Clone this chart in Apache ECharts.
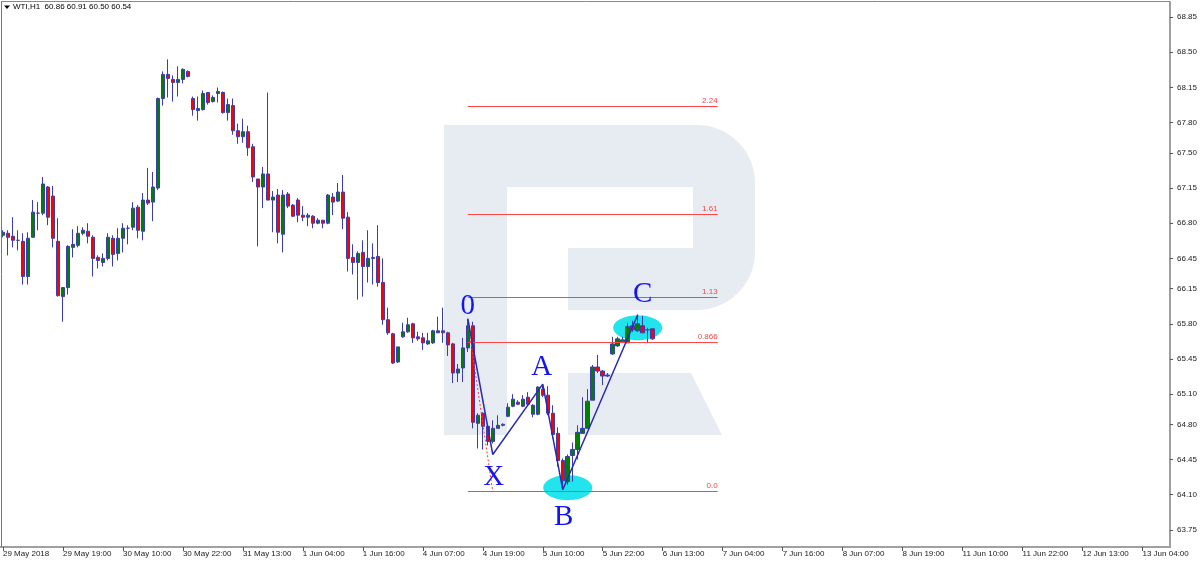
<!DOCTYPE html>
<html><head><meta charset="utf-8">
<script src="https://cdn.jsdelivr.net/npm/echarts@6/dist/echarts.min.js"></script>
<style>html,body{margin:0;padding:0;background:#fff}#c{width:1200px;height:561px}</style>
</head><body><div id="c"></div>
<script>
const tickLabels = ['29 May 2018','29 May 19:00','30 May 10:00','30 May 22:00','31 May 13:00','1 Jun 04:00','1 Jun 16:00','4 Jun 07:00','4 Jun 19:00','5 Jun 10:00','5 Jun 22:00','6 Jun 13:00','7 Jun 04:00','7 Jun 16:00','8 Jun 07:00','8 Jun 19:00','11 Jun 10:00','11 Jun 22:00','12 Jun 13:00','13 Jun 04:00'];
const barsPerTick = 12;
const totalSlots = 234;

const opens = [66.68,66.70,66.67,66.63,66.62,66.27,66.66,66.90,66.90,67.16, 67.07,66.62,66.07,66.16,66.56,66.58,66.70,66.72,66.66,66.46, 66.41,66.45,66.65,66.50,66.65,66.75,66.76,66.96,66.72,67.03, 67.01,67.15,68.04,68.28,68.23,68.20,68.23,68.31,68.04,67.92, 67.93,68.10,68.01,68.09,68.10,67.90,67.97,67.72,67.66,67.71, 67.56,67.24,67.16,67.29,67.03,67.08,66.69,67.09,66.98,67.03, 66.88,66.86,66.87,66.80,66.83,66.80,67.06,67.02,67.11,66.86, 66.46,66.41,66.51,66.37,66.45,66.47,66.21,65.84,65.70,65.42, 65.67,65.72,65.80,65.67,65.66,65.60,65.61,65.71,65.73,65.71, 65.60,65.31,65.36,65.56,65.78,64.81,64.91,64.78,64.63,64.76, 64.79,64.88,64.98,65.02,64.98,65.07,64.90,64.90,65.15,65.09, 64.91,64.71,64.44,64.23,64.49,64.55,64.71,64.76,65.04,65.37, 65.33,65.28,65.50,65.58,65.62,65.61,65.78,65.73,65.78,65.74, 65.75];
const closes = [66.71,66.66,66.63,66.63,66.27,66.65,66.91,66.90,67.19,66.86, 66.65,66.08,66.16,66.57,66.59,66.70,66.73,66.67,66.45,66.43, 66.45,66.66,66.49,66.65,66.75,66.75,66.95,66.73,67.03,67.00, 67.16,68.04,68.28,68.24,68.20,68.23,68.33,68.26,67.93,67.94, 68.09,68.00,68.05,68.11,67.90,67.98,67.72,67.66,67.71,67.55, 67.26,67.16,67.29,67.03,67.06,66.71,67.08,66.97,66.87,66.88, 66.86,66.88,66.80,66.83,66.80,67.08,67.01,67.11,66.85,66.45, 66.41,66.50,66.37,66.45,66.46,66.21,65.84,65.71,65.41,65.57, 65.72,65.79,65.66,65.65,65.61,65.63,65.73,65.73,65.71,65.59, 65.31,65.35,65.56,65.78,64.82,64.89,64.78,64.63,64.76,64.79, 64.80,64.97,65.05,65.00,65.05,65.00,64.99,65.17,65.09,64.91, 64.70,64.44,64.24,64.48,64.55,64.72,64.76,65.03,65.37,65.33, 65.28,65.29,65.60,65.65,65.64,65.77,65.74,65.80,65.71,65.74, 65.65];
const lows = [66.66,66.48,66.56,66.53,66.19,66.19,66.66,66.73,66.88,66.78, 66.56,66.07,65.82,66.09,66.46,66.56,66.68,66.60,66.27,66.35, 66.37,66.43,66.37,66.43,66.51,66.59,66.73,66.65,66.63,66.98, 66.82,67.13,67.97,68.05,68.01,68.06,68.19,68.25,67.87,67.82, 67.92,67.98,68.00,68.00,67.89,67.82,67.68,67.59,67.60,67.47, 67.21,66.57,66.95,67.03,66.71,66.60,66.51,66.95,66.86,66.81, 66.82,66.77,66.75,66.79,66.75,66.79,66.88,67.01,66.74,66.32, 66.29,66.04,66.07,66.21,66.19,66.17,65.79,65.69,65.40,65.41, 65.66,65.71,65.61,65.63,65.54,65.59,65.60,65.71,65.61,65.48, 65.21,65.22,65.22,65.52,64.76,64.56,64.55,64.59,64.61,64.76, 64.78,64.87,64.97,64.99,64.97,64.99,64.87,64.89,65.07,64.89, 64.66,64.38,64.15,64.20,64.23,64.45,64.71,64.76,65.04,65.31, 65.19,65.27,65.49,65.57,65.61,65.61,65.72,65.72,65.71,65.61, 65.64];
const highs = [66.73,66.73,66.86,66.73,66.70,66.71,67.03,67.01,67.26,67.17, 67.17,66.85,66.16,66.58,66.74,66.77,66.76,66.80,66.68,66.48, 66.50,66.70,66.68,66.75,66.80,66.78,67.01,66.98,67.10,67.35, 67.31,68.05,68.31,68.43,68.27,68.36,68.34,68.32,68.06,68.06, 68.12,68.10,68.07,68.15,68.11,68.04,68.04,67.79,67.84,67.77, 67.59,67.24,67.36,68.10,67.12,67.14,67.13,67.11,66.99,67.05, 66.97,66.90,66.88,66.85,66.83,67.09,67.10,67.20,67.28,66.91, 66.59,66.52,66.63,66.73,66.60,66.78,66.45,65.96,65.71,65.57, 65.81,65.86,65.81,65.72,65.71,65.71,65.74,65.87,65.96,65.72, 65.61,65.40,65.66,65.85,65.82,64.91,64.92,64.81,64.84,64.89, 64.81,65.01,65.10,65.04,65.09,65.12,65.00,65.18,65.20,65.18, 64.99,64.77,64.46,64.50,64.62,64.79,65.07,65.15,65.39,65.49, 65.34,65.31,65.67,65.67,65.67,65.81,65.83,65.89,65.88,65.76, 65.75];

const priceTicks = [68.85,68.50,68.15,67.80,67.50,67.15,66.80,66.45,66.15,65.80,65.45,65.10,64.80,64.45,64.10,63.75];

const fibLabels = ['2.24','1.61','1.13','0.866','0.0'];
const fibPrices = [67.97,66.89,66.07,65.62,64.14];
const fibStart = 93, fibEnd = 143;

const patternNames = ['0','X','A','B','C'];
const patternIdx = [93,98,108,112,127];
const patternPrice = [65.85,64.50,65.20,64.15,65.89];
const patternLabelOffset = [[0,-12],[1,23],[-1,-17],[1,28],[5,-20]];

const ellipseIdx = [113,127];
const ellipsePrice = [64.17,65.76];

const dotIdx = [93,98];
const dotPrice = [65.83,64.13];

const categories = Array.from({length: totalSlots}, (_, i) => i % barsPerTick === 0 ? (tickLabels[i / barsPerTick] || '') : '');
const candleData = opens.map((o, i) => [o, closes[i], lows[i], highs[i]]);

const FONT = '"Liberation Sans", Arial, sans-serif';
const SERIF = '"Liberation Serif", "Times New Roman", serif';
const wm = '#e7ecf3';

function arcPts(cx, cy, r, a0, a1, n) {
  const pts = [];
  for (let k = 0; k <= n; k++) {
    const a = a0 + (a1 - a0) * k / n;
    pts.push([cx + r * Math.cos(a), cy + r * Math.sin(a)]);
  }
  return pts;
}
const R = 58;
const bowlPts = [[444,125],[697,125]]
  .concat(arcPts(697, 125 + R, R, -Math.PI / 2, 0, 16))
  .concat(arcPts(697, 310 - R, R, 0, Math.PI / 2, 16))
  .concat([[568,310],[568,248],[693,248],[693,187],[507,187],[507,435],[444,435]]);

function ellipsePts(cx, cy, rx, ry) {
  const pts = [];
  for (let k = 0; k < 48; k++) {
    const a = 2 * Math.PI * k / 48;
    pts.push([cx + rx * Math.cos(a), cy + ry * Math.sin(a)]);
  }
  return pts;
}

const chart = echarts.init(document.getElementById('c'), null, {renderer: 'canvas'});

chart.setOption({
  animation: false,
  backgroundColor: '#ffffff',
  grid: {left: 0, right: 30, top: 2, bottom: 14, containLabel: false},
  xAxis: {
    type: 'category', data: categories, boundaryGap: true,
    axisLine: {show: true, lineStyle: {color: '#a0a0a0', width: 2}},
    axisTick: {show: true, interval: barsPerTick - 1, alignWithLabel: true, length: 4, lineStyle: {color: '#555'}},
    axisLabel: {interval: barsPerTick - 1, align: 'left', fontSize: 8, fontFamily: FONT, color: '#1a1a1a', margin: 3},
    splitLine: {show: false}
  },
  yAxis: {
    type: 'value', position: 'right', min: 63.58, max: 69.0, scale: true,
    axisLine: {show: true, lineStyle: {color: '#a0a0a0', width: 2}},
    axisTick: {show: true, customValues: priceTicks, length: 3, lineStyle: {color: '#555'}},
    axisLabel: {customValues: priceTicks, formatter: v => v.toFixed(2), fontSize: 8, fontFamily: FONT, color: '#1a1a1a', margin: 7},
    splitLine: {show: false}
  },
  graphic: [
    {type: 'polygon', z: 0, silent: true, shape: {points: bowlPts}, style: {fill: wm}},
    {type: 'polygon', z: 0, silent: true, shape: {points: [[568,373],[691,373],[722,435],[568,435]]}, style: {fill: wm}},
    {type: 'line', z: 10, silent: true, shape: {x1: 1.5, y1: 2, x2: 1.5, y2: 547}, style: {stroke: '#777', lineWidth: 1}},
    {type: 'line', z: 10, silent: true, shape: {x1: 1, y1: 1.5, x2: 1170, y2: 1.5}, style: {stroke: '#888', lineWidth: 1}},
    {type: 'polygon', z: 10, silent: true, shape: {points: [[4,5.5],[10,5.5],[7,9]]}, style: {fill: '#000'}},
    {type: 'text', z: 10, silent: true, x: 13, y: 3, style: {text: 'WTI,H1  60.86 60.91 60.50 60.54', font: '8px ' + FONT, fill: '#000'}}
  ],
  series: [
    {
      type: 'custom', z: 1, silent: true,
      data: ellipseIdx.map((x, i) => [x, ellipsePrice[i]]),
      renderItem: (params, api) => {
        const p = api.coord([api.value(0), api.value(1)]);
        return {type: 'polygon', shape: {points: ellipsePts(p[0], p[1], 24.5, 12.5)}, style: {fill: '#22e4ec'}};
      }
    },
    {
      type: 'candlestick', z: 2, barWidth: 4,
      data: candleData,
      itemStyle: {color: '#008000', color0: '#ff0000', borderColor: '#3c3cb0', borderColor0: '#3c3cb0', borderWidth: 1}
    },
    {
      type: 'custom', z: 3, silent: true,
      data: fibPrices.map(p => [fibStart, fibEnd, p]),
      encode: {x: [0, 1], y: 2},
      renderItem: (params, api) => {
        const a = api.coord([api.value(0), api.value(2)]);
        const b = api.coord([api.value(1), api.value(2)]);
        const y = Math.round(a[1]) + 0.5;
        return {type: 'group', children: [
          {type: 'line', shape: {x1: a[0], y1: y, x2: b[0], y2: y}, style: {stroke: '#ff4646', lineWidth: 1}},
          {type: 'text', x: b[0], y: y - 2, style: {text: fibLabels[params.dataIndex], fill: '#f04848', font: '8px ' + FONT, align: 'right', verticalAlign: 'bottom'}}
        ]};
      }
    },
    {
      type: 'line', z: 3, silent: true, symbol: 'none',
      data: dotIdx.map((x, i) => [x, dotPrice[i]]),
      lineStyle: {color: '#ff3c3c', width: 1, type: [2, 2]}
    },
    {
      type: 'line', z: 4, silent: true, symbol: 'none',
      data: patternIdx.map((x, i) => [x, patternPrice[i]]),
      lineStyle: {color: '#2a2ab4', width: 1.5}
    },
    {
      type: 'custom', z: 5, silent: true,
      data: patternIdx.map((x, i) => [x, patternPrice[i]]),
      renderItem: (params, api) => {
        const p = api.coord([api.value(0), api.value(1)]);
        const off = patternLabelOffset[params.dataIndex];
        return {type: 'text', x: p[0] + off[0], y: p[1] + off[1],
                style: {text: patternNames[params.dataIndex], font: '29px ' + SERIF, fill: '#1414f0', align: 'center', verticalAlign: 'middle'}};
      }
    }
  ]
});
</script>
</body></html>
